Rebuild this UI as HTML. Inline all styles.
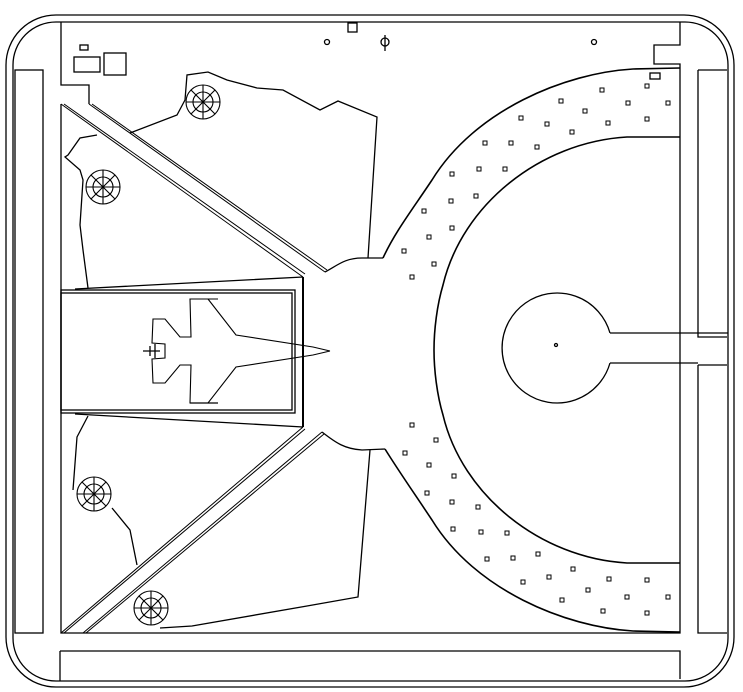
<!DOCTYPE html>
<html><head><meta charset="utf-8"><style>html,body{margin:0;padding:0;background:#fff;width:743px;height:692px;overflow:hidden}</style></head>
<body>
<svg width="743" height="692" viewBox="0 0 743 692" xmlns="http://www.w3.org/2000/svg" fill="none" stroke="#000" stroke-width="1.3">
<!-- outer frame -->
<rect x="6" y="15" width="728" height="672" rx="50" ry="50"/>
<rect x="13" y="22" width="715" height="659" rx="43" ry="43"/>
<!-- side strips -->
<rect x="15" y="70" width="28" height="563"/>
<path d="M698 70 H727 M698 70 V337 H727 M698 365 H727 M698 365 V633 H727"/>
<path d="M60 651 H680 V679 M60 651 V681"/>
<!-- main area boundary -->
<path d="M61 22 V85 H89 V104 M61 104 V633 H680 V563 M680 22 V45 H654 V64 H680 V137 M680 333 V363"/>
<path d="M680 363 V563"/>
<path d="M680 137 V333"/>
<!-- small top features -->
<rect x="80" y="45" width="8" height="5"/>
<rect x="74" y="57" width="26" height="15"/>
<rect x="104" y="53" width="22" height="22"/>
<rect x="348" y="23" width="9" height="9"/>
<circle cx="327" cy="42" r="2.5"/>
<circle cx="385" cy="42" r="4"/><path d="M385 35 V51"/>
<circle cx="594" cy="42" r="2.5"/>
<rect x="650" y="73" width="10" height="6"/>
<!-- diagonals -->
<path d="M61 104 L303 277 M64 104 L305 274 M89 104 L325 272 M92 104 L327 270" stroke-width="1"/>
<path d="M61 633 L303 427 M64 633 L305 429 M83 633 L322 432 M86 633 L324 434" stroke-width="1"/>
<!-- hangar -->
<path d="M303 277 V427" stroke-width="2"/>
<rect x="61" y="290" width="234" height="123"/>
<rect x="61" y="293" width="231" height="117"/>
<path d="M75 289 L303 277 M75 414 L303 427"/>
<!-- junctions -->
<path d="M325 272 C338 265 345 258 362 258 L383 258"/>
<path d="M322 432 C336 443 345 449 362 450 L385 449"/>
<!-- ring outer -->
<path d="M680 68 L633 69 C565 73 475 110 432 180 C412 210 395 232 383 258" stroke-width="1.6"/>
<path d="M680 632 L633 631 C565 627 475 590 432 520 C412 490 398 470 385 449" stroke-width="1.6"/>
<!-- ring inner -->
<path d="M680 137 L627 137 C540 142 462 205 443 285 C437 305 434 330 434 350 C434 370 437 395 443 415 C462 495 540 558 627 563 L680 563" stroke-width="1.6"/>
<!-- center circle and path -->
<path d="M610 333 A55 55 0 1 0 610 363"/>
<path d="M610 333 H728 M610 363 H698"/>
<circle cx="556" cy="345" r="1.5"/>
<!-- terrain upper -->
<path d="M130 133 L177 115 L185 100 L187 75 L208 72 L227 80 L257 88 L283 90 L320 110 L338 101 L377 117 L368 258"/>
<path d="M97 135 L80 138 L68 155 L65 157 L80 170 L83 180 L80 225 L83 250 L88 288"/>
<!-- terrain lower -->
<path d="M88 416 L77 437 L73 490"/>
<path d="M112 508 L130 530 L137 565"/>
<path d="M370 450 L358 597 L307 606 L192 626 L160 628"/>
<!-- trees -->
<g stroke-width="1.1">
<g transform="translate(203,102)"><circle r="17"/><circle r="10"/><path d="M0 -17 V17 M-17 0 H17 M-12 -12 L12 12 M-12 12 L12 -12"/></g>
<g transform="translate(103,187)"><circle r="17"/><circle r="10"/><path d="M0 -17 V17 M-17 0 H17 M-12 -12 L12 12 M-12 12 L12 -12"/></g>
<g transform="translate(94,494)"><circle r="17"/><circle r="10"/><path d="M0 -17 V17 M-17 0 H17 M-12 -12 L12 12 M-12 12 L12 -12"/></g>
<g transform="translate(151,608)"><circle r="17"/><circle r="10"/><path d="M0 -17 V17 M-17 0 H17 M-12 -12 L12 12 M-12 12 L12 -12"/></g>
</g>
<!-- plane -->
<path d="M330 351 L313 347 L236 335 L208 299 L218 299 M208 299 L190 299 L191 337 L180 337 L165 319 L153 319 L152 343 L165 344 L165 358 L152 359 L153 383 L165 383 L180 365 L191 365 L190 403 L208 403 L236 367 L313 355 L330 351" stroke-width="1.1"/>
<path d="M190 403 H218 M143 351 H160 M150 346 V356 M155 344 V358"/>
<!-- dots -->
<g stroke-width="1">
<rect x="600" y="88" width="4" height="4"/><rect x="645" y="84" width="4" height="4"/><rect x="559" y="99" width="4" height="4"/><rect x="626" y="101" width="4" height="4"/><rect x="666" y="101" width="4" height="4"/><rect x="583" y="109" width="4" height="4"/><rect x="519" y="116" width="4" height="4"/><rect x="545" y="122" width="4" height="4"/><rect x="606" y="121" width="4" height="4"/><rect x="645" y="117" width="4" height="4"/><rect x="570" y="130" width="4" height="4"/><rect x="483" y="141" width="4" height="4"/><rect x="509" y="141" width="4" height="4"/><rect x="535" y="145" width="4" height="4"/><rect x="450" y="172" width="4" height="4"/><rect x="477" y="167" width="4" height="4"/><rect x="503" y="167" width="4" height="4"/><rect x="449" y="199" width="4" height="4"/><rect x="474" y="194" width="4" height="4"/><rect x="422" y="209" width="4" height="4"/><rect x="450" y="226" width="4" height="4"/><rect x="427" y="235" width="4" height="4"/><rect x="402" y="249" width="4" height="4"/><rect x="432" y="262" width="4" height="4"/><rect x="410" y="275" width="4" height="4"/>
<rect x="410" y="423" width="4" height="4"/><rect x="434" y="438" width="4" height="4"/><rect x="403" y="451" width="4" height="4"/><rect x="427" y="463" width="4" height="4"/><rect x="452" y="474" width="4" height="4"/><rect x="425" y="491" width="4" height="4"/><rect x="450" y="500" width="4" height="4"/><rect x="476" y="505" width="4" height="4"/><rect x="451" y="527" width="4" height="4"/><rect x="479" y="530" width="4" height="4"/><rect x="505" y="531" width="4" height="4"/><rect x="485" y="557" width="4" height="4"/><rect x="511" y="556" width="4" height="4"/><rect x="536" y="552" width="4" height="4"/><rect x="521" y="580" width="4" height="4"/><rect x="547" y="575" width="4" height="4"/><rect x="571" y="567" width="4" height="4"/><rect x="607" y="577" width="4" height="4"/><rect x="645" y="578" width="4" height="4"/><rect x="586" y="588" width="4" height="4"/><rect x="560" y="598" width="4" height="4"/><rect x="625" y="595" width="4" height="4"/><rect x="666" y="595" width="4" height="4"/><rect x="601" y="609" width="4" height="4"/><rect x="645" y="611" width="4" height="4"/>
</g>
</svg>
</body></html>
